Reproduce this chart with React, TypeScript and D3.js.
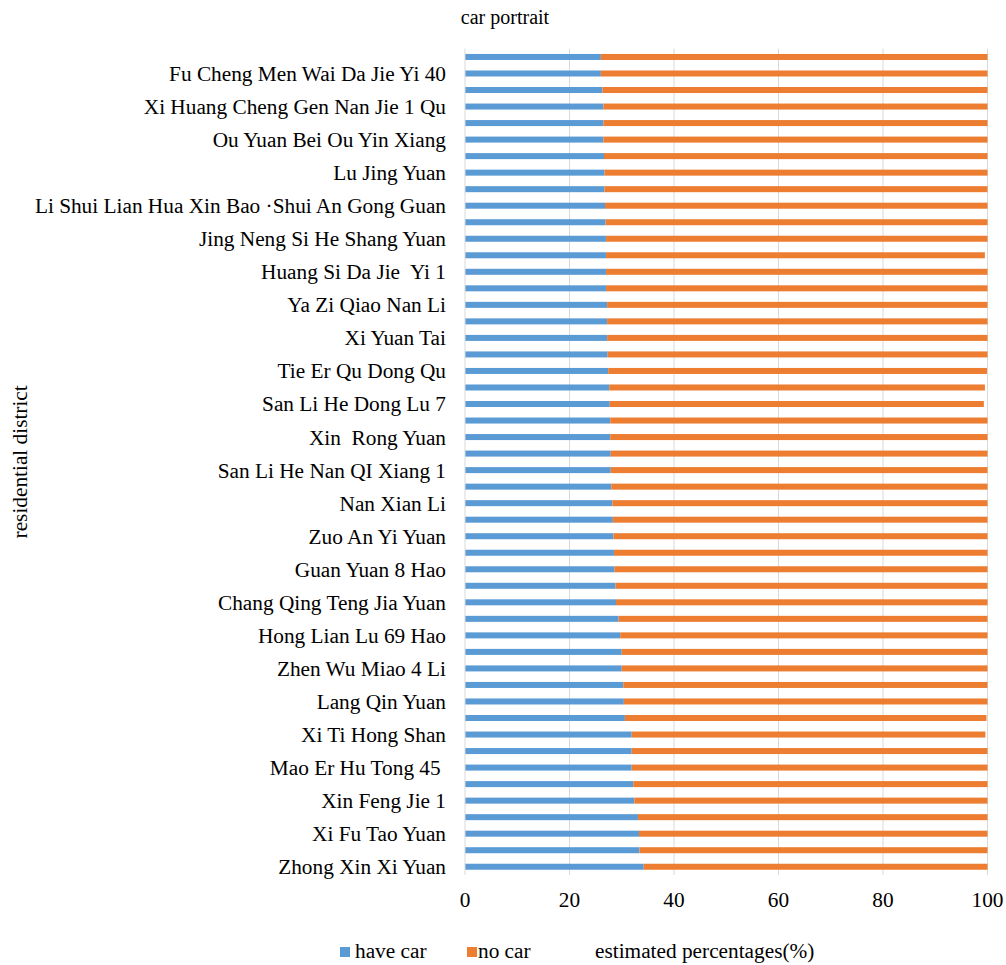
import React from "react";
import * as d3 from "d3";

// Residential districts, listed top to bottom; only every other name is printed on the axis.
const districts = [
  "", "Fu Cheng Men Wai Da Jie Yi 40",
  "", "Xi Huang Cheng Gen Nan Jie 1 Qu",
  "", "Ou Yuan Bei Ou Yin Xiang",
  "", "Lu Jing Yuan",
  "", "Li Shui Lian Hua Xin Bao ·Shui An Gong Guan",
  "", "Jing Neng Si He Shang Yuan",
  "", "Huang Si Da Jie  Yi 1",
  "", "Ya Zi Qiao Nan Li",
  "", "Xi Yuan Tai",
  "", "Tie Er Qu Dong Qu",
  "", "San Li He Dong Lu 7",
  "", "Xin  Rong Yuan",
  "", "San Li He Nan QI Xiang 1",
  "", "Nan Xian Li",
  "", "Zuo An Yi Yuan",
  "", "Guan Yuan 8 Hao",
  "", "Chang Qing Teng Jia Yuan",
  "", "Hong Lian Lu 69 Hao",
  "", "Zhen Wu Miao 4 Li",
  "", "Lang Qin Yuan",
  "", "Xi Ti Hong Shan",
  "", "Mao Er Hu Tong 45 ",
  "", "Xin Feng Jie 1",
  "", "Xi Fu Tao Yuan",
  "", "Zhong Xin Xi Yuan",
];

// Estimated share of households (%) with a car, same order as districts.
const haveCar = [
  26.0, 26.0, 26.3, 26.5, 26.5, 26.5, 26.6, 26.7, 26.7, 26.8,
  26.9, 27.0, 27.0, 27.0, 27.0, 27.2, 27.2, 27.2, 27.3, 27.4,
  27.6, 27.7, 27.8, 27.8, 27.9, 27.9, 28.0, 28.2, 28.3, 28.4,
  28.5, 28.6, 28.8, 28.9, 29.4, 29.7, 30.0, 30.0, 30.3, 30.4,
  30.6, 31.9, 31.9, 31.9, 32.2, 32.4, 33.1, 33.3, 33.4, 34.2,
];

// Estimated share of households (%) without a car.
const noCar = [
  74.0, 74.0, 73.7, 73.5, 73.5, 73.5, 73.4, 73.3, 73.3, 73.2,
  73.1, 73.0, 72.5, 73.0, 73.0, 72.8, 72.8, 72.8, 72.7, 72.5,
  71.9, 71.6, 72.2, 72.2, 72.1, 72.1, 72.0, 71.8, 71.7, 71.6,
  71.5, 71.4, 71.2, 71.1, 70.6, 70.3, 70.0, 70.0, 69.7, 69.6,
  69.2, 67.7, 68.1, 68.1, 67.8, 67.6, 66.9, 66.7, 66.6, 65.8,
];

const xTicks = [0, 20, 40, 60, 80, 100];
const seriesKeys = ["have car", "no car"];
const seriesColors = ["#5B9BD5", "#ED7D31"];

const W = 1006;
const H = 965;
const margin = { top: 48.7, right: 18.5, bottom: 90, left: 465 };
const FONT = "'Liberation Serif', 'Times New Roman', serif";
const FS = 21.3;

// Inline CSS so every label uses the serif face.
const textStyle = (size: number, extra: React.CSSProperties = {}): React.CSSProperties => ({
  fontFamily: FONT,
  fontSize: `${size}px`,
  fill: "#000",
  ...extra,
});

export default function App() {
  const rows = districts.map((name, i) => ({
    idx: String(i),
    name,
    "have car": haveCar[i],
    "no car": noCar[i],
  }));

  const x = d3.scaleLinear().domain([0, 100]).range([margin.left, W - margin.right]);
  const y = d3
    .scaleBand<string>()
    .domain(rows.map((r) => r.idx))
    .range([margin.top, H - margin.bottom])
    .paddingInner(0.636)
    .paddingOuter(0.318);

  const stacked = d3.stack<any>().keys(seriesKeys)(rows);
  const plotTop = margin.top;
  const plotBottom = H - margin.bottom;

  return (
    <svg
      width={W}
      height={H}
      style={{ position: "absolute", left: 0, top: 0, background: "#fff", fontFamily: FONT }}
    >
      <text x={505} y={24} textAnchor="middle" style={textStyle(20)}>
        car portrait
      </text>

      {/* vertical gridlines */}
      {xTicks.slice(1).map((t) => (
        <line key={t} x1={x(t)} x2={x(t)} y1={plotTop} y2={plotBottom} stroke="#D9D9D9" strokeWidth={1} />
      ))}

      {/* stacked bars */}
      {stacked.map((s, si) => (
        <g key={s.key} fill={seriesColors[si]}>
          {s.map((d, i) => (
            <rect
              key={i}
              x={x(d[0])}
              y={y(rows[i].idx)}
              width={x(d[1]) - x(d[0])}
              height={y.bandwidth()}
            />
          ))}
        </g>
      ))}

      {/* category axis */}
      <line x1={x(0)} x2={x(0)} y1={plotTop} y2={plotBottom} stroke="#D9D9D9" strokeWidth={1} />
      {rows.map((r) =>
        r.name ? (
          <text
            key={r.idx}
            x={446}
            y={(y(r.idx) ?? 0) + y.bandwidth() / 2}
            dy="0.35em"
            textAnchor="end"
            style={textStyle(FS, { whiteSpace: "pre" })}
          >
            {r.name}
          </text>
        ) : null
      )}

      {/* value axis labels */}
      {xTicks.map((t) => (
        <text key={t} x={x(t)} y={907} textAnchor="middle" style={textStyle(FS)}>
          {t}
        </text>
      ))}

      <text
        transform={`translate(27, ${(plotTop + plotBottom) / 2}) rotate(-90)`}
        textAnchor="middle"
        style={textStyle(FS)}
      >
        residential district
      </text>

      {/* legend */}
      <rect x={340} y={947} width={10} height={10} fill={seriesColors[0]} />
      <text x={355} y={958} style={textStyle(FS)}>{seriesKeys[0]}</text>
      <rect x={467} y={947} width={10} height={10} fill={seriesColors[1]} />
      <text x={478} y={958} style={textStyle(FS)}>{seriesKeys[1]}</text>

      <text x={595} y={958} style={textStyle(FS)}>
        estimated percentages(%)
      </text>
    </svg>
  );
}
